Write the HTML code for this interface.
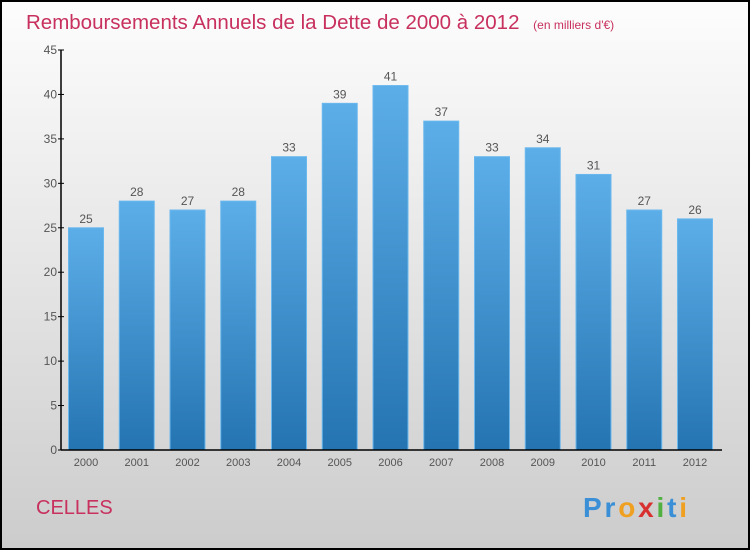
<!DOCTYPE html>
<html><head><meta charset="utf-8"><style>
html,body{margin:0;padding:0}
body{width:750px;height:550px;overflow:hidden;font-family:"Liberation Sans",sans-serif}
</style></head><body>
<svg id="chart" width="750" height="550" xmlns="http://www.w3.org/2000/svg">
<defs>
<linearGradient id="bg" x1="0" y1="0" x2="0" y2="1"><stop offset="0" stop-color="#fdfdfd"/><stop offset="1" stop-color="#cccccc"/></linearGradient>
<linearGradient id="bar" x1="0" y1="0" x2="0" y2="1"><stop offset="0" stop-color="#5caee8"/><stop offset="1" stop-color="#2574b2"/></linearGradient>
</defs>
<rect x="1" y="1" width="748" height="548" fill="url(#bg)" stroke="#000" stroke-width="2"/>
<text x="26" y="29" font-size="20.5" fill="#c8305e">Remboursements Annuels de la Dette de 2000 à 2012 <tspan font-size="12" dx="8">(en milliers d'€)</tspan></text>
<text x="36" y="514" font-size="20" fill="#c8305e">CELLES</text>
<g font-size="28" font-weight="bold">
<text x="583" y="517" textLength="104"><tspan fill="#3a8fd6">Pr</tspan><tspan fill="#f0a020">o</tspan><tspan fill="#d83030">x</tspan><tspan fill="#50b040">i</tspan><tspan fill="#3a8fd6">t</tspan><tspan fill="#f0a020">i</tspan></text>
</g>
<g id="plot"></g>
</svg>
<script>
const categories=["2000","2001","2002","2003","2004","2005","2006","2007","2008","2009","2010","2011","2012"];
const values=[25,28,27,28,33,39,41,37,33,34,31,27,26];
const yTicks=[0,5,10,15,20,25,30,35,40,45];
const NS="http://www.w3.org/2000/svg";
const g=document.getElementById('plot');
const x0=61,y0=450,yTop=50,maxV=45;
const step=50.75,firstC=86,bw=35;
const y=v=>y0-(v/maxV)*(y0-yTop);
const xc=i=>firstC+i*step;
function mk(t,a){const e=document.createElementNS(NS,t);for(const k in a)e.setAttribute(k,a[k]);g.appendChild(e);return e;}
values.forEach((v,i)=>{
 const r=mk('rect',{x:xc(i)-bw/2,y:y(v),width:bw,height:y0-y(v),fill:'url(#bar)',stroke:'#6bb8ee','stroke-width':1});
 
 
 const t=mk('text',{x:xc(i),y:y(v)-5,'text-anchor':'middle','font-size':12,fill:'#555'});t.textContent=v;
 
 
 const c=mk('text',{x:xc(i),y:466,'text-anchor':'middle','font-size':11,fill:'#555'});c.textContent=categories[i];
 
 
});
yTicks.forEach(v=>{
 const l=mk('line',{x1:x0-3,x2:x0+3,y1:y(v),y2:y(v),stroke:'#000'});
 
 
 const t=mk('text',{x:x0-4,y:y(v)+4,'text-anchor':'end','font-size':12,fill:'#555'});t.textContent=v;
 
 
});
const ya=mk('line',{x1:x0,x2:x0,y1:yTop,y2:y0,stroke:'#000','stroke-width':1.5});


const xa=mk('line',{x1:x0,x2:722,y1:y0,y2:y0,stroke:'#000','stroke-width':1.5});


</script>
</body></html>
